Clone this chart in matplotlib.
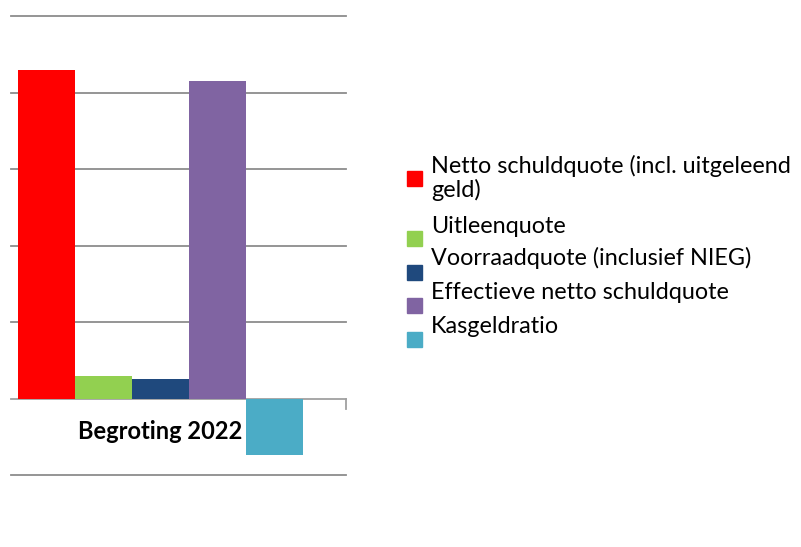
import matplotlib.pyplot as plt
import numpy as np

# Kengetallen begroting 2022 (in %)
category = "Begroting 2022"
labels = ["Netto schuldquote (incl. uitgeleend\ngeld)",
          "Uitleenquote",
          "Voorraadquote (inclusief NIEG)",
          "Effectieve netto schuldquote",
          "Kasgeldratio"]
values = [86.0, 6.0, 5.2, 82.9, -14.9]
colors = ["#ff0000", "#92d050", "#1f497d", "#8064a2", "#4bacc6"]

W, H = 801, 547
fig = plt.figure(figsize=(W/100, H/100), dpi=100)
ax = fig.add_axes([11/W, 1-475/H, 335/W, 459/H])

x = np.arange(len(values))
ax.bar(x, values, width=1.0, color=colors, zorder=3)
ax.set_xlim(-0.5 - 7/57, 4.5 + 43/57)
ax.set_ylim(-20, 100)

# rasterlijnen
for g in np.arange(-20, 101, 20):
    ax.axhline(g, color="#8c8c8c" if g != 0 else "#a0a0a0", lw=1.3, zorder=1, clip_on=False)
# tick rechts op de nullijn
ax.plot([ax.get_xlim()[1]]*2, [0, -2.8], color="#a0a0a0", lw=1.3, clip_on=False, zorder=2)

for s in ax.spines.values():
    s.set_visible(False)
ax.set_xticks([])
ax.set_yticks([])

ax.text(np.mean(x), -8.5, category, ha="center", va="center",
        fontsize=17, fontweight="bold", family="Lato", zorder=4)

# legenda
sq = 15
square_y = [178, 238, 272, 305, 339]
text_base = [173, 233, 265, 299, 333]
for i, (lab, c) in enumerate(zip(labels, colors)):
    fig.patches.append(plt.Rectangle((407/W, 1-(square_y[i]+sq/2)/H), sq/W, sq/H,
                                     transform=fig.transFigure, color=c))
    for j, line in enumerate(lab.split("\n")):
        fig.text(431/W, 1-(text_base[i]+24*j)/H, line, ha="left", va="baseline",
                 fontsize=16.8, family="Lato")

fig.savefig("out.png", dpi=100)
